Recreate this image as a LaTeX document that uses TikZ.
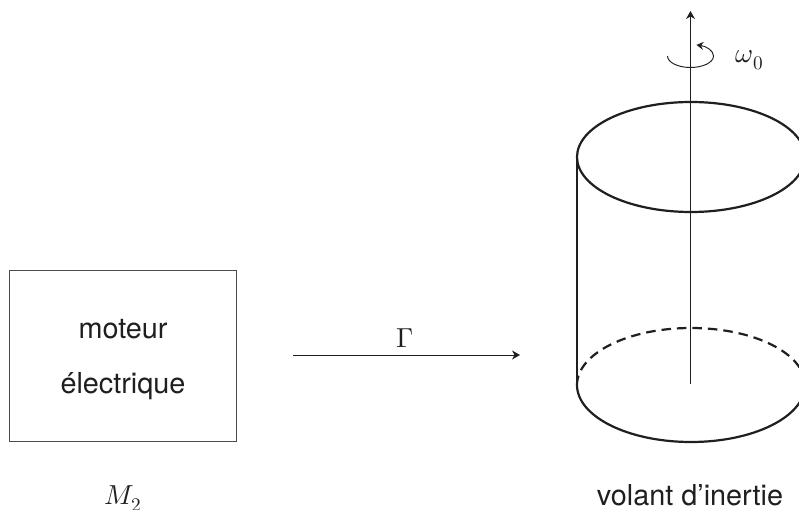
\documentclass[tikz,border=0pt]{standalone}
\usepackage{fontspec}
\usepackage{unicode-math}
\setmainfont{TeX Gyre Heros}
\setmathfont{Latin Modern Math}
\usetikzlibrary{arrows.meta}
\definecolor{ink}{gray}{0.12}
\tikzset{
  x=1pt,y=-1pt,
  thinline/.style={draw=ink,line width=0.95pt},
  boxline/.style={draw=ink!80,line width=1pt},
  thickline/.style={draw=ink,line width=2.2pt},
  arrowline/.style={thinline,-{Stealth[length=8pt,width=9pt,inset=2.5pt]}},
  label/.style={text=ink,font=\fontsize{28.8}{29}\selectfont,inner sep=0pt},
  mathlabel/.style={text=ink,font=\fontsize{27.5}{27.5}\selectfont,inner sep=0pt},
  motorbox/.style={boxline,rectangle,minimum width=227pt,minimum height=170.5pt,inner sep=0pt}
}
\begin{document}
\begin{tikzpicture}
\useasboundingbox (0,0) rectangle (799,510);
\clip (0,0) rectangle (799,510);
% motor
\node[motorbox] (motor) at (123,356) {};
\node[label,anchor=base] (moteur) at (123,338) {moteur};
\node[label,anchor=base] (electrique) at (123,393) {électrique};
\node[mathlabel,anchor=base] (m2) at (123,504.5) {$M_2$};
% torque
\coordinate (gstart) at (293,355);
\coordinate (gend) at (520,355);
\draw[arrowline] (gstart) -- (gend);
\node[mathlabel,anchor=base] (gamma) at (405,347) {$\Gamma$};
% cylinder
\coordinate (tc) at (691,157);
\coordinate (bc) at (691,385);
\coordinate (tl) at (577,157);
\coordinate (bl) at (577,385);
\draw[thickline] (tc) ellipse [x radius=114, y radius=55];
\draw[thickline] (tl) -- (bl);
\draw[thickline] (bl) arc [start angle=180,end angle=360,x radius=114,y radius=-57];
\draw[thickline,dash pattern=on 9.5pt off 6pt] (bl) arc [start angle=180,end angle=360,x radius=114,y radius=57];
% axis
\coordinate (abot) at (690.5,384);
\coordinate (atop) at (690.5,11);
\draw[arrowline,line width=1.1pt] (abot) -- (atop);
% rotation
\coordinate (rs) at (667.5,56);
\draw[thinline,-{Stealth[length=7pt,width=8pt,inset=2.5pt]}] (rs) arc [start angle=180,end angle=435,x radius=23,y radius=-11.5];
\node[mathlabel,anchor=base] (omega) at (749.5,63) {$\omega_0$};
\node[label,anchor=base] (volant) at (690,505) {volant d’inertie};
\end{tikzpicture}
\end{document}
